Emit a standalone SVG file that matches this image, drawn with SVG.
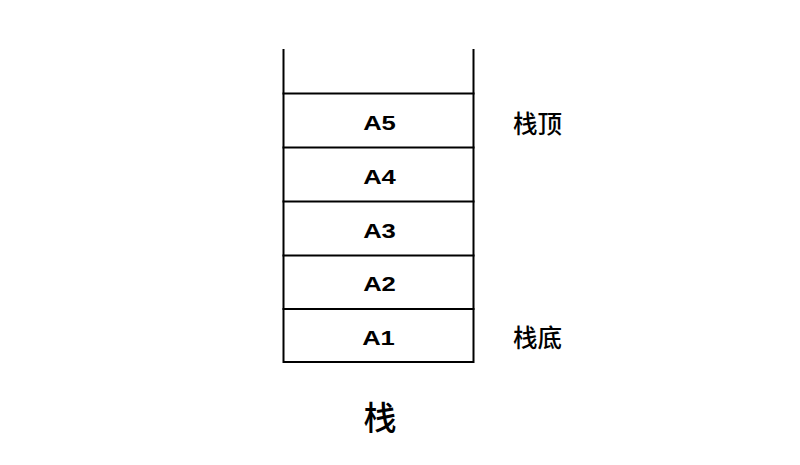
<svg xmlns="http://www.w3.org/2000/svg" width="800" height="465" viewBox="0 0 800 465">
<style>
.ln{stroke:#000;stroke-width:2;fill:none;stroke-linecap:square}
.lbl{font-family:"Liberation Sans","Noto Sans CJK SC",sans-serif;font-weight:bold;font-size:20.5px;fill:#000;text-anchor:middle;dominant-baseline:central}
.cjk{font-family:"Noto Sans CJK SC",sans-serif;font-weight:500;font-size:24.5px;fill:#000;dominant-baseline:central}
</style>
<rect width="800" height="465" fill="#fff"/>
<g id="connectors">
<path class="ln" d="M283.5 50 V362 H473.5 V50"/>
</g>
<g id="A5"><line class="ln" x1="283.5" y1="93.5" x2="473.5" y2="93.5"/><text class="lbl" transform="translate(379.5 123) scale(1.25 1)">A5</text></g>
<g id="A4"><line class="ln" x1="283.5" y1="147.5" x2="473.5" y2="147.5"/><text class="lbl" transform="translate(379.5 177) scale(1.25 1)">A4</text></g>
<g id="A3"><line class="ln" x1="283.5" y1="201.5" x2="473.5" y2="201.5"/><text class="lbl" transform="translate(379.5 230.5) scale(1.25 1)">A3</text></g>
<g id="A2"><line class="ln" x1="283.5" y1="255.5" x2="473.5" y2="255.5"/><text class="lbl" transform="translate(379.5 284) scale(1.25 1)">A2</text></g>
<g id="A1"><line class="ln" x1="283.5" y1="309" x2="473.5" y2="309"/><text class="lbl" transform="translate(378.5 337.5) scale(1.25 1)">A1</text></g>
<g id="top-label"><text class="cjk" x="513" y="122">栈顶</text></g>
<g id="bottom-label"><text class="cjk" x="513" y="336">栈底</text></g>
<g id="title"><text class="cjk" x="380" y="416" style="font-size:33px;text-anchor:middle">栈</text></g>
</svg>
